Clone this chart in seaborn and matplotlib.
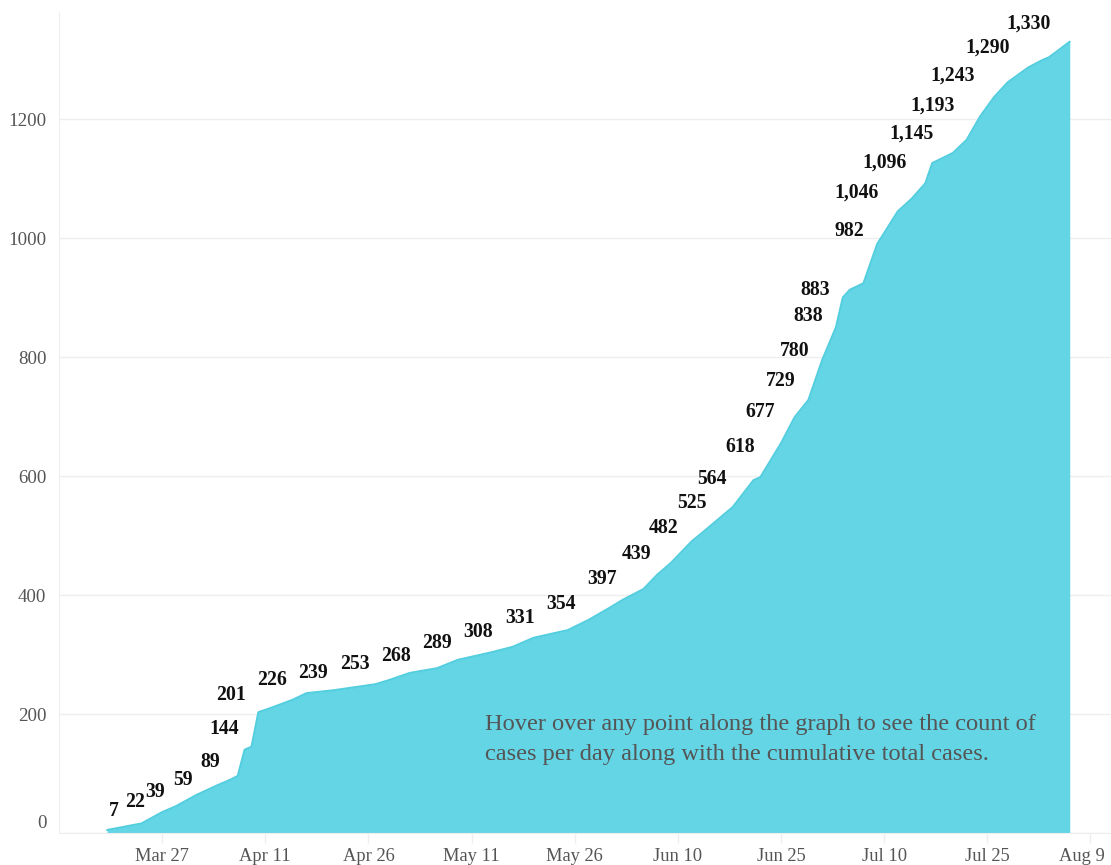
import matplotlib
matplotlib.use("Agg")
import matplotlib.dates as mdates
import matplotlib.pyplot as plt
import matplotlib.ticker as ticker
import matplotlib.transforms as mtransforms
import pandas as pd
import seaborn as sns

# cumulative cases
curve_dates = [
    "2020-03-19", "2020-03-24", "2020-03-27", "2020-03-29", "2020-04-01",
    "2020-04-04", "2020-04-06", "2020-04-07", "2020-04-08", "2020-04-09",
    "2020-04-10", "2020-04-12", "2020-04-15", "2020-04-17", "2020-04-21",
    "2020-04-24", "2020-04-27", "2020-04-29", "2020-05-02", "2020-05-06",
    "2020-05-09", "2020-05-14", "2020-05-17", "2020-05-20", "2020-05-25",
    "2020-05-28", "2020-05-31", "2020-06-02", "2020-06-05", "2020-06-07",
    "2020-06-09", "2020-06-12", "2020-06-14", "2020-06-18", "2020-06-21",
    "2020-06-22", "2020-06-25", "2020-06-27", "2020-06-29", "2020-07-01",
    "2020-07-03", "2020-07-04", "2020-07-05", "2020-07-07", "2020-07-09",
    "2020-07-12", "2020-07-14", "2020-07-16", "2020-07-17", "2020-07-20",
    "2020-07-22", "2020-07-24", "2020-07-26", "2020-07-28", "2020-07-31",
    "2020-08-02", "2020-08-03", "2020-08-06",
]
curve_values = [
    5, 16, 35, 45, 64,
    80, 90, 96, 140, 145,
    203, 211, 224, 235, 240,
    245, 250, 257, 269, 277,
    291, 304, 313, 328, 341,
    358, 378, 392, 410, 434,
    454, 490, 509, 548, 593,
    598, 655, 699, 728, 795,
    850, 900, 913, 924, 990,
    1045, 1066, 1092, 1126, 1143,
    1165, 1205, 1237, 1262, 1287,
    1299, 1304, 1330,
]

# value labels written above the curve
label_dates = [
    "2020-03-20", "2020-03-23", "2020-03-26", "2020-03-30", "2020-04-03",
    "2020-04-05", "2020-04-06", "2020-04-12", "2020-04-18", "2020-04-24",
    "2020-04-30", "2020-05-06", "2020-05-12", "2020-05-18", "2020-05-24",
    "2020-05-30", "2020-06-04", "2020-06-08", "2020-06-12", "2020-06-15",
    "2020-06-19", "2020-06-22", "2020-06-25", "2020-06-27", "2020-06-29",
    "2020-06-30", "2020-07-05", "2020-07-06", "2020-07-10", "2020-07-14",
    "2020-07-17", "2020-07-20", "2020-07-25", "2020-07-31",
]
label_values = [
    7, 22, 39, 59, 89, 144, 201, 226, 239, 253,
    268, 289, 308, 331, 354, 397, 439, 482, 525, 564,
    618, 677, 729, 780, 838, 883, 982, 1046, 1096, 1145,
    1193, 1243, 1290, 1330,
]

tick_dates = ["2020-03-27", "2020-04-11", "2020-04-26", "2020-05-11", "2020-05-26",
              "2020-06-10", "2020-06-25", "2020-07-10", "2020-07-25", "2020-08-09"]
y_ticks = [0, 200, 400, 600, 800, 1000, 1200]

note = ("Hover over any point along the graph to see the count of\n"
        "cases per day along with the cumulative total cases.")

df = pd.DataFrame({"date": pd.to_datetime(curve_dates), "cases": curve_values})
labels = pd.DataFrame({"date": pd.to_datetime(label_dates), "cases": label_values})

sns.set_style("white")
plt.rcParams["font.family"] = ["Liberation Serif", "DejaVu Serif"]

fill_color = "#63d5e5"

fig = plt.figure(figsize=(11.11, 8.65), dpi=100)
ax = fig.add_axes([59 / 1111, 32 / 865, 1052 / 1111, 821 / 865])

ax.fill_between(df["date"], df["cases"], 0, color=fill_color, linewidth=0, zorder=2)
sns.lineplot(data=df, x="date", y="cases", ax=ax, color="#52cedf", linewidth=1.5, zorder=3)

for d, v in zip(labels["date"], labels["cases"]):
    ax.annotate(f"{v:,}", xy=(d, v), xytext=(0, 13), textcoords="offset points",
                ha="center", va="center", fontsize=14.2, fontweight="bold",
                color="#111111", zorder=4)

ax.text(pd.Timestamp("2020-05-13"), 200, note, ha="left", va="top", fontsize=17.6,
        color="#555555", linespacing=1.55, zorder=5)

ax.set_xlim(pd.Timestamp("2020-03-12"), pd.Timestamp("2020-08-12"))
ax.set_ylim(0, 1380)

ax.xaxis.set_major_locator(ticker.FixedLocator(mdates.date2num(pd.to_datetime(tick_dates))))
ax.xaxis.set_major_formatter(mdates.DateFormatter("%b %-d"))
ax.set_yticks(y_ticks)

ax.set_xlabel("")
ax.set_ylabel("")
ax.grid(axis="y", color="#eeeeee", linewidth=1)
ax.set_axisbelow(True)

for side in ["top", "right"]:
    ax.spines[side].set_visible(False)
ax.spines["left"].set_color("#eeeeee")
ax.spines["bottom"].set_color("#eeeeee")

ax.tick_params(axis="x", length=7, width=1, color="#eeeeee", labelsize=13.3,
               labelcolor="#555555", pad=4, bottom=True, direction="out")
ax.tick_params(axis="y", length=0, labelsize=13.6, labelcolor="#555555", pad=9)

# the zero label sits a little above its gridline, the last date label is kept inside
fig.canvas.draw()
zero_label = ax.yaxis.get_major_ticks()[0].label1
zero_label.set_transform(zero_label.get_transform()
                         + mtransforms.ScaledTranslation(0, 12 / 100, fig.dpi_scale_trans))
last_label = ax.xaxis.get_major_ticks()[len(tick_dates) - 1].label1
last_label.set_transform(last_label.get_transform()
                         + mtransforms.ScaledTranslation(-8 / 100, 0, fig.dpi_scale_trans))

fig.savefig("out.png", dpi=100)
plt.close(fig)
